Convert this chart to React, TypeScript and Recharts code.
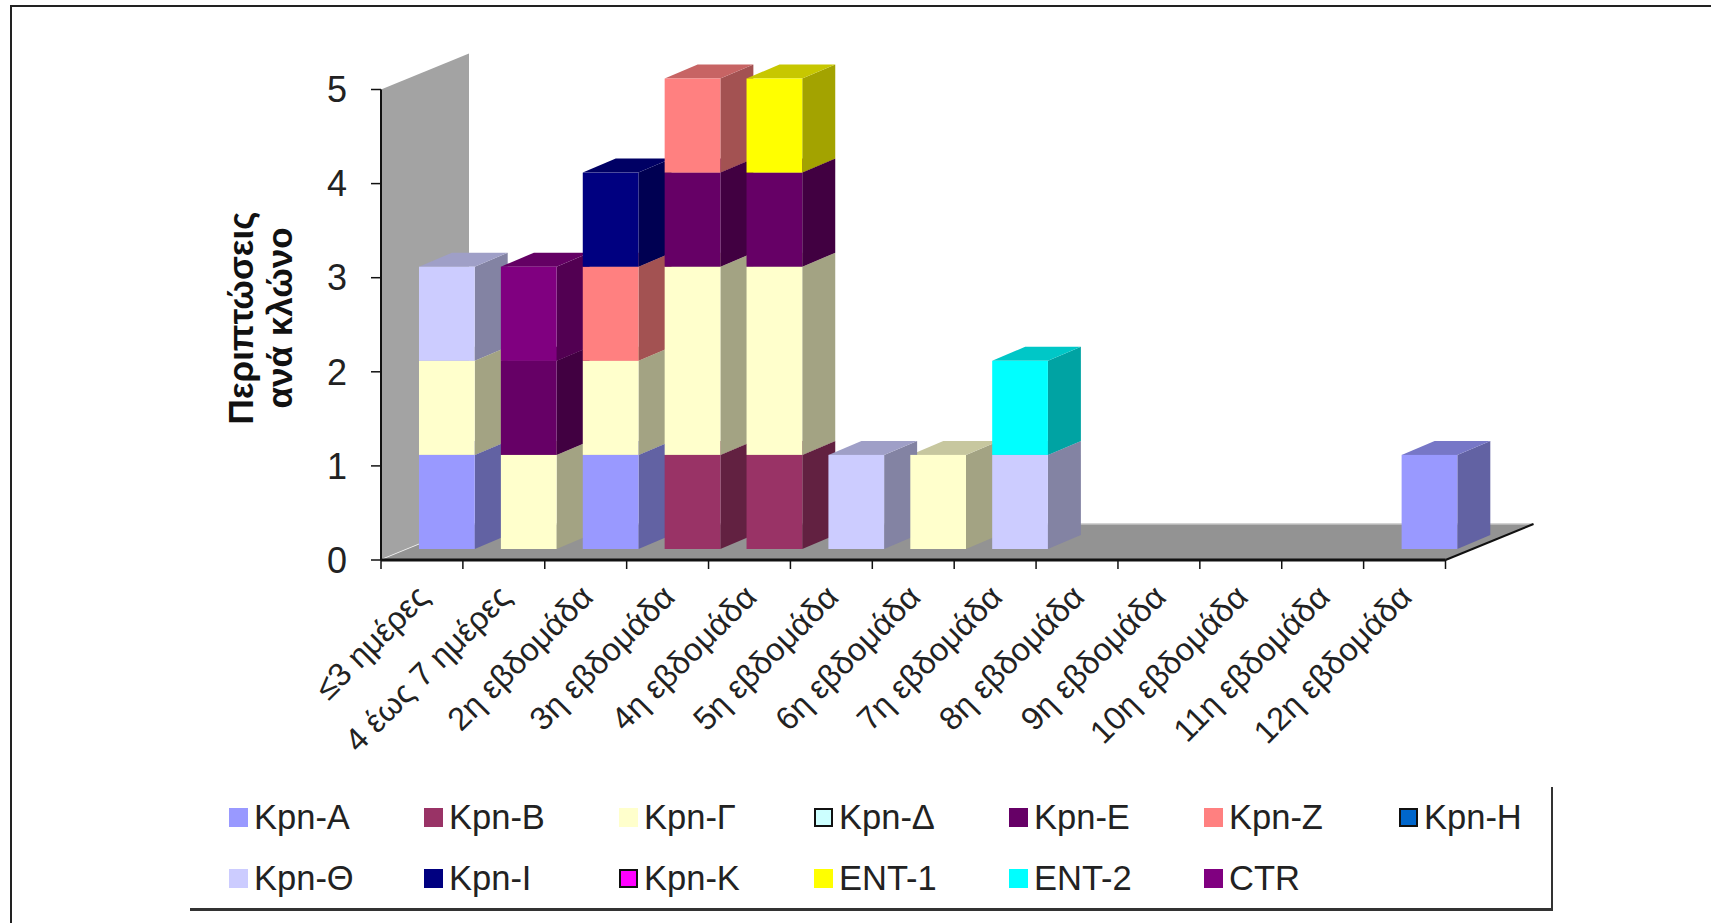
import { BarChart, Bar, XAxis, YAxis, ReferenceArea, Legend } from 'recharts';

const CATEGORIES = [
  '≤3 ημέρες',
  '4 έως 7 ημέρες',
  '2η εβδομάδα',
  '3η εβδομάδα',
  '4η εβδομάδα',
  '5η εβδομάδα',
  '6η εβδομάδα',
  '7η εβδομάδα',
  '8η εβδομάδα',
  '9η εβδομάδα',
  '10η εβδομάδα',
  '11η εβδομάδα',
  '12η εβδομάδα',
];

const KPN_A = [1, 0, 1, 0, 0, 0, 0, 0, 0, 0, 0, 0, 1];
const KPN_B = [0, 0, 0, 1, 1, 0, 0, 0, 0, 0, 0, 0, 0];
const KPN_G = [1, 1, 1, 2, 2, 0, 1, 0, 0, 0, 0, 0, 0];
const KPN_D = [0, 0, 0, 0, 0, 0, 0, 0, 0, 0, 0, 0, 0];
const KPN_E = [0, 1, 0, 1, 1, 0, 0, 0, 0, 0, 0, 0, 0];
const KPN_Z = [0, 0, 1, 1, 0, 0, 0, 0, 0, 0, 0, 0, 0];
const KPN_H = [0, 0, 0, 0, 0, 0, 0, 0, 0, 0, 0, 0, 0];
const KPN_TH = [1, 0, 0, 0, 0, 1, 0, 1, 0, 0, 0, 0, 0];
const KPN_I = [0, 0, 1, 0, 0, 0, 0, 0, 0, 0, 0, 0, 0];
const KPN_K = [0, 0, 0, 0, 0, 0, 0, 0, 0, 0, 0, 0, 0];
const ENT_1 = [0, 0, 0, 0, 1, 0, 0, 0, 0, 0, 0, 0, 0];
const ENT_2 = [0, 0, 0, 0, 0, 0, 0, 1, 0, 0, 0, 0, 0];
const CTR = [0, 1, 0, 0, 0, 0, 0, 0, 0, 0, 0, 0, 0];

const SERIES = [
  { name: 'Kpn-Α', color: '#9999ff', values: KPN_A },
  { name: 'Kpn-Β', color: '#993366', values: KPN_B },
  { name: 'Kpn-Γ', color: '#ffffcc', values: KPN_G },
  { name: 'Kpn-Δ', color: '#ccffff', values: KPN_D, outlined: true },
  { name: 'Kpn-Ε', color: '#660066', values: KPN_E },
  { name: 'Kpn-Ζ', color: '#ff8080', values: KPN_Z },
  { name: 'Kpn-Η', color: '#0066cc', values: KPN_H, outlined: true },
  { name: 'Kpn-Θ', color: '#ccccff', values: KPN_TH },
  { name: 'Kpn-Ι', color: '#000080', values: KPN_I },
  { name: 'Kpn-Κ', color: '#ff00ff', values: KPN_K, outlined: true },
  { name: 'ENT-1', color: '#ffff00', values: ENT_1 },
  { name: 'ENT-2', color: '#00ffff', values: ENT_2 },
  { name: 'CTR', color: '#800080', values: CTR },
];

const chartData = CATEGORIES.map((label, i) => {
  const row: Record<string, string | number> = { label };
  SERIES.forEach((s) => {
    row[s.name] = s.values[i];
  });
  return row;
});

const FONT = '"Liberation Sans", Arial, sans-serif';
const WIDTH = 1711;
const HEIGHT = 923;
const PLOT = { left: 381, right: 1445.5, top: 89.5, bottom: 560 };
const BAND = (PLOT.right - PLOT.left) / CATEGORIES.length;

// pseudo-3D offsets: chart box depth, and where the bars sit inside it
const BOX_DX = 88;
const BOX_DY = -36;
const BAR_SHIFT_X = 25;
const BAR_SHIFT_Y = -11;
const BAR_DX = 33;
const BAR_DY = -14;

function shade(hex: string, k: number) {
  const n = parseInt(hex.slice(1), 16);
  const c = [(n >> 16) & 255, (n >> 8) & 255, n & 255].map((v) => Math.round(v * k));
  return `rgb(${c[0]},${c[1]},${c[2]})`;
}

function pts(list: number[][]) {
  return list.map((p) => p.join(',')).join(' ');
}

// drawn first: side and top of each block
function BarDepth({ x, y, width, height, fill }: any) {
  if (!height) return null;
  const l = x + BAR_SHIFT_X;
  const r = l + width;
  const t = y + BAR_SHIFT_Y;
  const b = t + height;
  return (
    <g>
      <polygon
        points={pts([[r, t], [r + BAR_DX, t + BAR_DY], [r + BAR_DX, b + BAR_DY], [r, b]])}
        fill={shade(fill, 0.64)}
      />
      <polygon
        points={pts([[l, t], [l + BAR_DX, t + BAR_DY], [r + BAR_DX, t + BAR_DY], [r, t]])}
        fill={shade(fill, 0.78)}
      />
    </g>
  );
}

// drawn second, so a bar's front covers its left neighbour's side
function BarFront({ x, y, width, height, fill }: any) {
  if (!height) return null;
  return <rect x={x + BAR_SHIFT_X} y={y + BAR_SHIFT_Y} width={width} height={height} fill={fill} />;
}

function BackWall({ x, y, height }: any) {
  const b = y + height;
  return (
    <g>
      <polygon
        points={pts([[x, y], [x + BOX_DX, y + BOX_DY], [x + BOX_DX, b + BOX_DY], [x, b]])}
        fill="#a3a3a3"
      />
      <line x1={x} y1={b} x2={x + BOX_DX} y2={b + BOX_DY} stroke="#f4f4f4" strokeWidth={1.5} />
    </g>
  );
}

function Floor({ x, y, width, height }: any) {
  const r = x + width;
  const b = y + height;
  return (
    <g>
      <polygon
        points={pts([[x, b], [r, b], [r + BOX_DX, b + BOX_DY], [x + BOX_DX, b + BOX_DY]])}
        fill="#939393"
      />
      <line x1={x + BOX_DX} y1={b + BOX_DY} x2={r + BOX_DX} y2={b + BOX_DY} stroke="#c4c4c4" strokeWidth={1.5} />
      <line x1={r} y1={b} x2={r + BOX_DX} y2={b + BOX_DY} stroke="#111" strokeWidth={2} />
    </g>
  );
}

function CategoryTick({ x, payload, index }: any) {
  const left = x - BAND / 2;
  const axisY = PLOT.bottom;
  const endX = x + 9;
  const endY = axisY + 39;
  return (
    <g>
      <line x1={left} y1={axisY} x2={left} y2={axisY + 9} stroke="#111" strokeWidth={1.5} />
      {index === CATEGORIES.length - 1 && (
        <line x1={left + BAND} y1={axisY} x2={left + BAND} y2={axisY + 9} stroke="#111" strokeWidth={1.5} />
      )}
      <text
        x={endX}
        y={endY}
        textAnchor="end"
        transform={`rotate(-45 ${endX} ${endY})`}
        fontFamily={FONT}
        fontSize={32.5}
        fill="#222"
      >
        {payload.value}
      </text>
    </g>
  );
}

function AxisTitle() {
  const cx = 253;
  const cy = 318;
  return (
    <text
      transform={`rotate(-90 ${cx} ${cy})`}
      x={cx}
      y={cy}
      textAnchor="middle"
      fontFamily={FONT}
      fontSize={35}
      fontWeight="bold"
      fill="#111"
    >
      <tspan x={cx} dy={0}>Περιπτώσεις</tspan>
      <tspan x={cx} dy={39}>ανά κλώνο</tspan>
    </text>
  );
}

function SeriesLegend() {
  return (
    <div
      style={{
        display: 'grid',
        gridTemplateColumns: 'repeat(7, 195px)',
        gridAutoRows: '61px',
        alignItems: 'center',
        paddingLeft: 39,
        boxSizing: 'border-box',
        height: 124,
        borderRight: '2px solid #333',
        borderBottom: '3px solid #333',
        fontFamily: FONT,
        fontSize: 34.5,
        color: '#222',
      }}
    >
      {SERIES.map((s) => (
        <div key={s.name} style={{ display: 'flex', alignItems: 'center', height: 61 }}>
          <span
            style={{
              display: 'inline-block',
              width: 19,
              height: 19,
              marginRight: 6,
              boxSizing: 'border-box',
              background: s.color,
              border: s.outlined ? '2.5px solid #111' : 'none',
            }}
          />
          {s.name}
        </div>
      ))}
    </div>
  );
}

export default function App() {
  return (
    <div style={{ position: 'absolute', left: 0, top: 0, width: WIDTH, height: HEIGHT, background: '#fff', overflow: 'hidden' }}>
      <div
        style={{
          position: 'absolute',
          left: 10,
          top: 5,
          right: 0,
          bottom: 0,
          borderLeft: '2px solid #222',
          borderTop: '2px solid #222',
        }}
      />
      <BarChart
        width={WIDTH}
        height={HEIGHT}
        data={chartData}
        barSize={55.7}
        margin={{ top: PLOT.top, right: WIDTH - PLOT.right, bottom: HEIGHT - PLOT.bottom - 130, left: PLOT.left - 80 }}
        style={{ position: 'absolute', left: 0, top: 0 }}
      >
        <XAxis
          xAxisId="front"
          dataKey="label"
          interval={0}
          height={130}
          tickLine={false}
          tick={<CategoryTick />}
          axisLine={{ stroke: '#111', strokeWidth: 3 }}
        />
        <XAxis xAxisId="depth" dataKey="label" height={0} hide />
        <YAxis
          domain={[0, 5]}
          ticks={[0, 1, 2, 3, 4, 5]}
          width={80}
          tickSize={10}
          tickMargin={24}
          tick={{ fontFamily: FONT, fontSize: 36, fill: '#222' }}
          tickLine={{ stroke: '#111', strokeWidth: 1.5 }}
          axisLine={{ stroke: '#111', strokeWidth: 2 }}
          label={<AxisTitle />}
        />
        <ReferenceArea xAxisId="front" y1={0} y2={5} shape={<BackWall />} />
        <ReferenceArea xAxisId="front" y1={0} y2={5} shape={<Floor />} />
        {SERIES.map((s) => (
          <Bar
            key={`depth-${s.name}`}
            xAxisId="depth"
            stackId="depth"
            dataKey={s.name}
            fill={s.color}
            legendType="none"
            shape={<BarDepth />}
            isAnimationActive={false}
          />
        ))}
        {SERIES.map((s) => (
          <Bar
            key={s.name}
            xAxisId="front"
            stackId="front"
            dataKey={s.name}
            fill={s.color}
            shape={<BarFront />}
            isAnimationActive={false}
          />
        ))}
        <Legend
          layout="horizontal"
          verticalAlign="middle"
          align="center"
          content={<SeriesLegend />}
          wrapperStyle={{ left: 190, top: 787, width: 1363 }}
        />
      </BarChart>
    </div>
  );
}
